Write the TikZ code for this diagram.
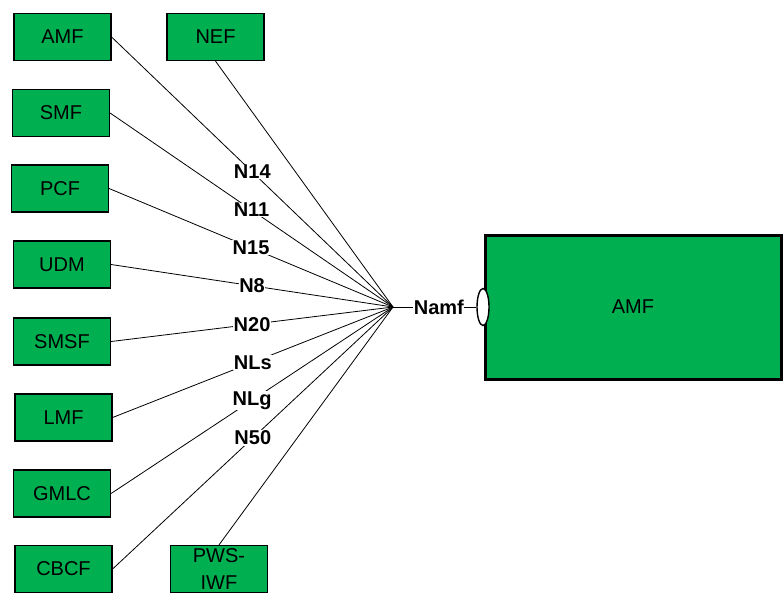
\documentclass[tikz,border=0pt]{standalone}
\usepackage{fontspec}
\setmainfont{Liberation Sans}
\usetikzlibrary{shapes.geometric}
\definecolor{vert}{HTML}{00B050}

\begin{document}
\begin{tikzpicture}[x=1pt, y=-1pt, line width=0.8pt,
    boite/.style={draw, fill=vert, line width=1.2pt, minimum width=97pt, minimum height=47pt, inner sep=0pt, align=center, font=\fontsize{20}{21}\selectfont},
    etiq/.style={fill=white, inner sep=0.5pt, font=\bfseries\fontsize{20}{22}\selectfont}]
    \useasboundingbox (0,0) rectangle (783,595);
    % Boites
    \node[boite] at (62.5,37) (amf) {AMF};
    \node[boite] at (215.5,37) (nef) {NEF};
    \node[boite] at (61,113) (smf) {SMF};
    \node[boite] at (60,188.5) (pcf) {PCF};
    \node[boite] at (62,264.5) (udm) {UDM};
    \node[boite] at (62,341.5) (smsf) {SMSF};
    \node[boite] at (63.5,417.5) (lmf) {LMF};
    \node[boite] at (62,493.5) (gmlc) {GMLC};
    \node[boite] at (63.5,569) (cbcf) {CBCF};
    \node[boite, font=\fontsize{20}{27}\selectfont] at (219,569) (pws) {PWS-\\IWF};
    \node[boite, minimum width=296pt, minimum height=144pt, line width=3pt] at (633,307) (amfc) {AMF};
    \node[ellipse, draw, fill=white, line width=1.4pt, minimum width=12pt, minimum height=37pt, inner sep=0pt] at (483,307) (port) {};
    \coordinate (hub) at (393,307);
    % Liaisons
    \draw (amf.east) -- node[etiq] {N14} (hub);
    \draw (smf.east) -- node[etiq] {N11} (hub);
    \draw (pcf.east) -- node[etiq] {N15} (hub);
    \draw (udm.east) -- node[etiq] {N8} (hub);
    \draw (smsf.east) -- node[etiq] {N20} (hub);
    \draw (lmf.east) -- node[etiq] {NLs} (hub);
    \draw (gmlc.east) -- node[etiq] {NLg} (hub);
    \draw (cbcf.east) -- node[etiq] {N50} (hub);
    \draw (nef.south) -- (hub);
    \draw (pws.north) -- (hub);
    \draw (hub) -- node[etiq, pos=0.55] {Namf} (port.west);
\end{tikzpicture}
\end{document}
